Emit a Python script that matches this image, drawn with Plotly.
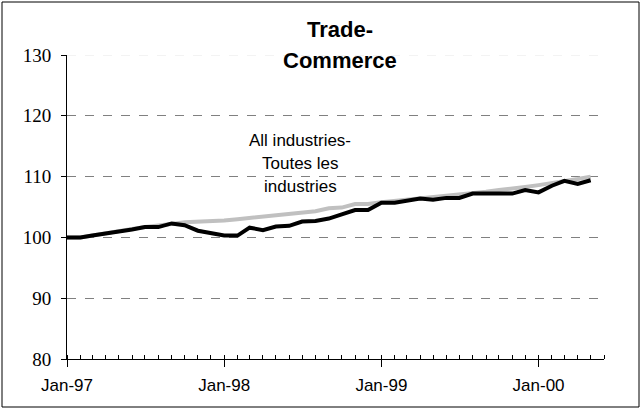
import plotly.graph_objects as go
import pandas as pd

months = pd.date_range("1997-01-01", periods=41, freq="MS")
trade = [100.0, 100.0, 100.3, 100.6, 101.0, 101.3, 101.7, 101.7, 102.3, 102.0,
         101.1, 100.7, 100.3, 100.3, 101.6, 101.2, 101.8, 101.9, 102.6, 102.7,
         103.1, 103.8, 104.5, 104.5, 105.7, 105.7, 106.1, 106.4, 106.2, 106.5,
         106.5, 107.2, 107.2, 107.2, 107.2, 107.8, 107.4, 108.5, 109.3, 108.8,
         109.4]
all_ind = [100.0, 100.0, 100.3, 100.7, 101.1, 101.4, 101.7, 101.9, 102.2, 102.5,
           102.6, 102.6, 102.8, 103.0, 103.2, 103.5, 103.6, 103.9, 104.2, 104.3,
           104.8, 104.9, 105.5, 105.5, 105.8, 106.0, 106.2, 106.5, 106.7, 106.9,
           107.1, 107.3, 107.5, 107.8, 108.0, 108.3, 108.6, 108.9, 109.3, 109.6,
           110.0]
y_ticks = [80, 90, 100, 110, 120, 130]
title_lines = ["Trade-", "Commerce"]
series_lines = ["All industries-", "Toutes les", "industries"]

W, H = 642, 410
L, R, T, B = 67, 38, 55, 51
pw, ph = W - L - R, H - T - B


def px_x(x):
    return (x - L) / pw


def px_y(y):
    return (H - B - y) / ph


fig = go.Figure()
fig.add_trace(go.Scatter(x=months, y=all_ind, mode="lines",
                         line=dict(color="#c0c0c0", width=4), name="All industries"))
fig.add_trace(go.Scatter(x=months, y=trade, mode="lines",
                         line=dict(color="#000000", width=4), name="Trade"))

annotations = []
for txt, ypx in zip(title_lines, [29, 60]):
    annotations.append(dict(text="<b>" + txt + "</b>", xref="paper", yref="paper",
                            x=px_x(340), y=px_y(ypx), showarrow=False,
                            xanchor="center", yanchor="middle",
                            font=dict(family="Liberation Sans", size=22)))
for txt, ypx in zip(series_lines, [140, 163, 186]):
    annotations.append(dict(text=txt, xref="paper", yref="paper",
                            x=px_x(300), y=px_y(ypx), showarrow=False,
                            xanchor="center", yanchor="middle",
                            font=dict(family="Liberation Sans", size=17)))

fig.update_layout(
    width=W, height=H,
    margin=dict(l=L, r=R, t=T, b=B),
    paper_bgcolor="white", plot_bgcolor="white",
    showlegend=False,
    font=dict(family="Liberation Sans", color="black"),
    xaxis=dict(
        range=[pd.Timestamp("1997-01-01"), pd.Timestamp("2000-06-01")],
        tickvals=[pd.Timestamp(f"{y}-01-01") for y in (1997, 1998, 1999, 2000)],
        tickformat="%b-%y",
        ticks="outside", ticklen=7, tickcolor="black", tickwidth=1,
        showline=True, linecolor="black", linewidth=1,
        showgrid=False, zeroline=False, ticklabelstandoff=4,
        tickfont=dict(family="Liberation Sans", size=17),
        minor=dict(dtick="M1", tick0="1997-01-01", ticks="inside", ticklen=4,
                   tickcolor="black", showgrid=False),
    ),
    yaxis=dict(
        range=[80, 130], tickvals=y_ticks,
        ticks="outside", ticklen=5, tickcolor="black",
        showline=True, linecolor="black", linewidth=1,
        showgrid=True, gridcolor="#808080", griddash="dash", gridwidth=1,
        zeroline=False, ticklabelstandoff=6,
        tickfont=dict(family="Liberation Serif", size=19),
    ),
    annotations=annotations,
    shapes=[
        dict(type="rect", xref="paper", yref="paper",
             x0=px_x(2), x1=px_x(639), y0=px_y(407), y1=px_y(2),
             line=dict(color="black", width=1), layer="below"),
        dict(type="line", xref="paper", yref="y",
             x0=0, x1=1, y0=130, y1=130,
             line=dict(color="#e8e8e8", width=1, dash="dash"), layer="below"),
    ],
)

fig.write_html("out.html", config={"displayModeBar": False},
               post_script="document.body.style.margin='0';")
